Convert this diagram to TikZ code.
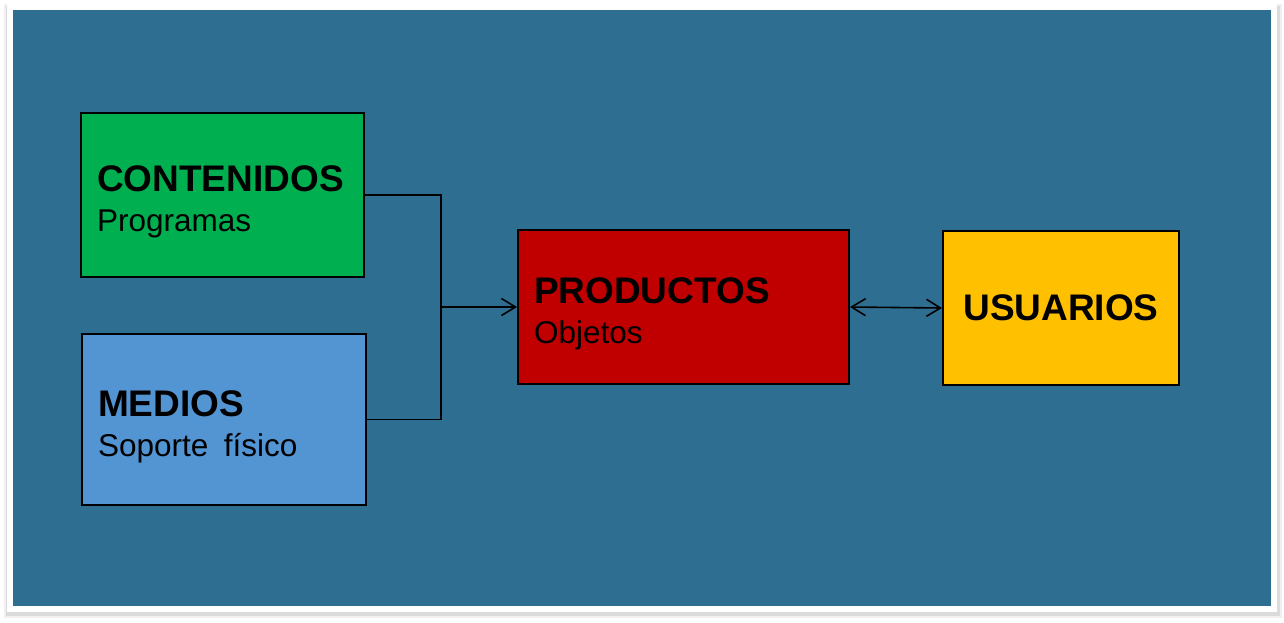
\documentclass[tikz,border=0pt]{standalone}
\usepackage{fontspec}
\setmainfont{Liberation Sans}
\usetikzlibrary{arrows.meta}
\definecolor{fondo}{RGB}{46,110,145}
\definecolor{verde}{RGB}{0,176,80}
\definecolor{azul}{RGB}{83,148,210}
\definecolor{rojo}{RGB}{192,0,0}
\definecolor{amarillo}{RGB}{255,192,0}
\newcommand{\titulo}[1]{{\fontsize{37}{40}\selectfont\bfseries #1}}

\begin{document}
\begin{tikzpicture}[x=1pt, y=-1pt,
    caja/.style={draw=black, line width=2pt, anchor=north west, inner xsep=16pt, inner ysep=0pt, align=left,
      text depth=32pt, font=\fontsize{31.5}{40}\selectfont},
    linea/.style={line width=1.6pt},
    punta/.tip={Straight Barb[length=14pt,width=17pt]}]
  \useasboundingbox (0,0) rectangle (1284,622);
  \fill[black!6] (4,4) rectangle (1282,618);
  \fill[black!14] (6,6) rectangle (1280,616);
  \fill[white] (7,4) rectangle (1277,612);
  \fill[fondo] (13,10) rectangle (1271,606);

  \node[caja, fill=verde, minimum width=283, minimum height=164, text width=251] (contenidos) at (80,112) {\titulo{CONTENIDOS}\\Programas};
  \node[caja, fill=azul, minimum width=284, minimum height=171, text width=252] (medios) at (81,333) {\titulo{MEDIOS}\\Soporte\ \hspace{5pt}físico};
  \node[caja, fill=rojo, minimum width=331, minimum height=154, text width=299] (productos) at (517,229) {\titulo{PRODUCTOS}\\Objetos};
  \node[caja, fill=amarillo, minimum width=236, minimum height=154, align=center, text depth=0pt] (usuarios) at (942,230) {\titulo{USUARIOS}};

  \coordinate (eje) at (441,0);
  \coordinate (union) at (productos.west -| eje);
  \draw[linea] (contenidos.east) -| (union) |- (medios.east);
  \draw[linea, -punta] (union) -- (productos.west);
  \draw[linea, punta-punta] (productos.east) -- (usuarios.west);
\end{tikzpicture}
\end{document}
